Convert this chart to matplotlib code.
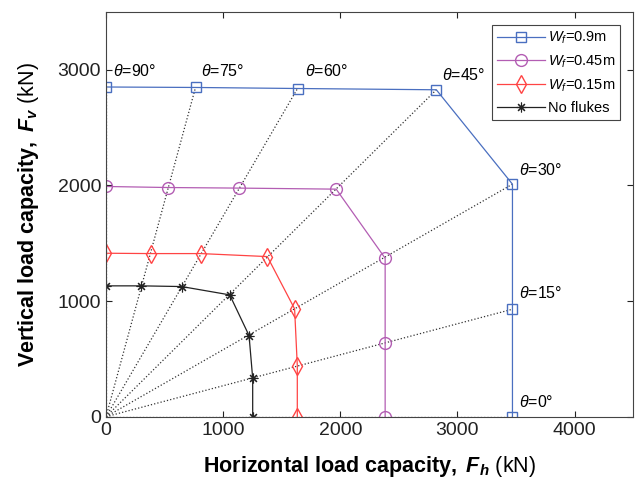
import numpy as np
import matplotlib.pyplot as plt

plt.rcParams['font.family'] = ['Liberation Sans', 'DejaVu Sans']
plt.rcParams['mathtext.fontset'] = 'custom'
plt.rcParams['mathtext.rm'] = 'Liberation Sans'
plt.rcParams['mathtext.it'] = 'Liberation Sans:italic'
plt.rcParams['mathtext.bf'] = 'Liberation Sans:bold'
plt.rcParams['mathtext.bfit'] = 'Liberation Sans:bold:italic'

# load angles (deg) and capacities (kN) for each fluke width
theta = [90, 75, 60, 45, 30, 15, 0]
fh_09 = [0, 764, 1635, 2820, 3470, 3470, 3470]
fv_09 = [2850, 2846, 2837, 2826, 2010, 929, 0]
fh_045 = [0, 531, 1139, 1965, 2383, 2383, 2383]
fv_045 = [1990, 1981, 1976, 1967, 1370, 635, 0]
fh_015 = [0, 383, 809, 1377, 1610, 1633, 1633]
fv_015 = [1413, 1410, 1410, 1384, 932, 439, 0]
fh_none = [0, 301, 645, 1056, 1221, 1252, 1252]
fv_none = [1131, 1131, 1125, 1053, 701, 332, 0]

label_x = [60, 815, 1695, 2868, 3526, 3526, 3526]
label_y = [2990, 2990, 2990, 2955, 2134, 1067, 130]

fig = plt.figure(figsize=(6.35, 4.82), dpi=100)
ax = fig.add_axes([0.167, 0.1355, 0.83, 0.84])

# radial load paths
for x, y in zip(fh_09, fv_09):
    ax.plot([0, x], [0, y], ls=':', color='#333333', lw=0.9, zorder=1)

asterisk = (8, 2, 0)
ax.plot(fh_09, fv_09, '-s', color='#4a6fc0', mfc='none', ms=6.5, lw=0.9, label=r'$W_f$=0.9m')
ax.plot(fh_045, fv_045, '-o', color='#b35db3', mfc='none', ms=8.5, lw=0.9, label=r'$W_f$=0.45m')
ax.plot(fh_015, fv_015, '-d', color='#ff4444', mfc='none', ms=9, lw=0.9, label=r'$W_f$=0.15m')
ax.plot(fh_none, fv_none, '-', marker=asterisk, color='#222222', ms=7, mew=0.8, lw=0.9,
        label='No flukes')

for t, x, y in zip(theta, label_x, label_y):
    ax.text(x, y, r'$\theta$=%d°' % t, fontsize=11.5, va='center', ha='left')

ax.set_xlim(0, 4500)
ax.set_ylim(0, 3500)
ax.set_xticks([0, 1000, 2000, 3000, 4000])
ax.set_yticks([0, 1000, 2000, 3000])
ax.tick_params(direction='in', top=True, right=True, labelsize=14, length=4, colors='#222222')
for s in ax.spines.values():
    s.set_color('#444444')

ax.set_xlabel(r'$\mathbf{Horizontal\ load\ capacity,}\ \mathbfit{F_h}\ \mathrm{(kN)}$', fontsize=15.5)
ax.set_ylabel(r'$\mathbf{Vertical\ load\ capacity,}\ \mathbfit{F_v}\ \mathrm{(kN)}$', fontsize=15.5)
ax.xaxis.set_label_coords(0.5, -0.092)
ax.yaxis.set_label_coords(-0.123, 0.5)

leg = ax.legend(loc='upper right', bbox_to_anchor=(0.976, 0.968), borderaxespad=0,
                fontsize=10.5, fancybox=False, edgecolor='#444444', framealpha=1,
                handlelength=3.3, handletextpad=0.2, borderpad=0.35, labelspacing=0.5)
leg.get_frame().set_linewidth(0.8)

fig.savefig('out.png', dpi=100)
